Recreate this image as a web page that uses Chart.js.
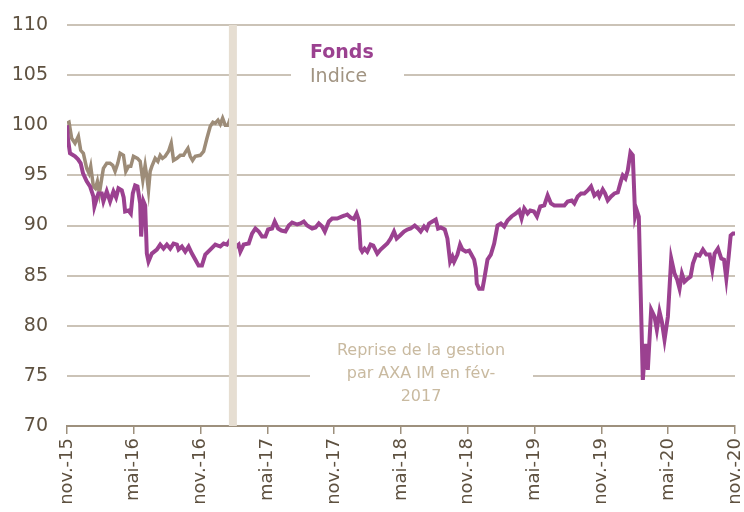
<!DOCTYPE html>
<html><head><meta charset="utf-8">
<script src="https://cdn.jsdelivr.net/npm/chart.js@4/dist/chart.umd.min.js"></script>
<style>html,body{margin:0;padding:0;background:#fff}canvas{display:block}</style>
</head><body>
<canvas id="c" width="744" height="512"></canvas>
<script>
// Months since nov-15 for each reading
const fondsMonths = [0,0.09,0.27,0.72,0.99,1.23,1.44,1.77,2.07,2.37,2.46,2.67,2.82,3.12,3.27,3.57,3.87,4.17,4.41,4.62,4.92,5.09,5.22,5.52,5.73,5.91,6.12,6.33,6.57,6.66,6.87,7.02,7.17,7.32,7.62,8.07,8.37,8.67,8.97,9.27,9.57,9.87,10.02,10.32,10.62,10.92,11.22,11.52,11.82,12.12,12.42,12.87,13.32,13.77,14.07,14.37,14.67,14.94,15.21,15.42,15.57,15.87,16.32,16.62,16.92,17.22,17.52,17.82,18.06,18.42,18.66,18.96,19.26,19.62,19.92,20.22,20.67,20.97,21.27,21.57,22.02,22.32,22.62,22.92,23.16,23.52,23.82,24.27,24.72,24.96,25.17,25.47,25.77,26.01,26.22,26.37,26.52,26.73,26.97,27.27,27.51,27.87,28.17,28.47,28.77,29.07,29.37,29.61,29.91,30.27,30.57,30.87,31.23,31.53,31.77,32.07,32.31,32.52,32.82,33.12,33.33,33.57,33.93,34.17,34.41,34.62,34.77,35.07,35.31,35.52,35.82,36.12,36.27,36.57,36.72,36.81,37.02,37.32,37.47,37.77,38.07,38.37,38.67,38.97,39.27,39.57,39.93,40.32,40.62,40.83,41.07,41.37,41.61,41.94,42.21,42.51,42.87,43.17,43.47,43.77,44.22,44.67,44.97,45.33,45.57,45.87,46.17,46.47,46.77,47.07,47.37,47.67,47.82,48.12,48.33,48.57,48.87,49.17,49.47,49.77,49.92,50.16,50.37,50.61,50.82,51.03,51.18,51.36,51.72,51.96,52.17,52.47,52.77,52.98,53.22,53.43,53.67,53.97,54.27,54.57,54.81,55.02,55.23,55.47,55.77,56.01,56.22,56.52,56.82,57.12,57.42,57.72,57.96,58.17,58.47,58.77,59.01,59.22,59.43,59.61,59.82,60];
const fondsValues = [100.0,98.6,97.2,96.9,96.6,96.2,95.2,94.4,93.9,92.9,91.9,92.7,93.2,93.2,92.4,93.4,92.4,93.4,92.8,93.7,93.5,92.8,91.4,91.5,91.2,93.2,94.0,93.9,92.2,88.9,92.4,92.0,87.2,86.4,87.2,87.6,88.1,87.7,88.1,87.7,88.2,88.1,87.6,87.9,87.4,87.9,87.2,86.6,86.0,86.0,87.1,87.6,88.1,87.9,88.2,88.1,88.6,88.3,87.9,88.1,87.4,88.1,88.2,89.2,89.7,89.4,88.9,88.9,89.6,89.7,90.4,89.7,89.5,89.4,90.0,90.3,90.1,90.2,90.4,90.0,89.7,89.8,90.2,89.9,89.4,90.4,90.7,90.7,90.9,91.0,91.1,90.8,90.65,91.2,90.5,87.7,87.4,87.7,87.4,88.1,88.0,87.2,87.6,87.9,88.2,88.7,89.4,88.7,89.0,89.4,89.6,89.7,90.0,89.7,89.4,89.9,89.6,90.2,90.4,90.6,89.7,89.8,89.6,88.7,86.4,86.9,86.4,87.1,88.1,87.6,87.4,87.5,87.2,86.6,85.7,84.2,83.7,83.7,84.6,86.6,87.1,88.2,90.0,90.2,89.9,90.5,90.9,91.2,91.5,90.7,91.7,91.2,91.5,91.4,90.9,91.9,92.0,93.0,92.2,92.0,92.0,92.0,92.4,92.5,92.2,92.9,93.2,93.2,93.5,93.9,93.0,93.3,92.9,93.6,93.2,92.5,92.9,93.2,93.3,94.5,95.0,94.7,95.5,97.3,97.0,90.9,91.5,90.9,74.6,78.2,75.6,81.6,80.9,79.6,81.4,80.4,78.6,80.9,86.7,85.2,84.6,83.7,85.2,84.4,84.7,84.9,86.2,87.1,87.0,87.6,87.1,87.1,85.6,87.2,87.7,86.7,86.6,84.7,86.9,89.0,89.2,89.2];
const indiceMonths = [0,0.18,0.42,0.72,1.02,1.23,1.47,1.77,1.98,2.13,2.37,2.55,2.73,2.91,3.12,3.27,3.57,3.87,4.11,4.32,4.56,4.77,5.07,5.28,5.52,5.73,5.97,6.33,6.57,6.81,7.02,7.17,7.32,7.47,7.62,7.92,8.16,8.37,8.58,8.82,9.12,9.36,9.57,9.87,10.17,10.47,10.68,10.86,11.07,11.28,11.52,11.97,12.27,12.57,12.87,13.11,13.32,13.56,13.77,13.98,14.22,14.46,14.67];
const indiceValues = [100.2,100.3,98.7,98.2,98.9,97.5,97.2,95.7,95.2,95.9,93.9,93.7,94.4,93.2,94.7,95.7,96.2,96.2,96.0,95.4,96.2,97.2,97.0,95.4,95.9,95.9,96.9,96.7,96.4,94.5,96.0,94.9,93.5,95.4,95.9,96.7,96.4,97.0,96.7,96.9,97.4,98.2,96.5,96.7,97.0,97.0,97.4,97.7,96.9,96.5,96.9,97.0,97.4,98.7,99.9,100.3,100.2,100.5,100.1,100.7,100.0,100.0,100.7];
const tickMonths = [0,6,12,18,24,30,36,42,48,54,60];
const tickLabels = ['nov.-15','mai-16','nov.-16','mai-17','nov.-17','mai-18','nov.-18','mai-19','nov.-19','mai-20','nov.-20'];
const seriesNames = ['Fonds','Indice'];
const bandMonth = 14.9;
const noteLines = ['Reprise de la gestion','par AXA IM en fév-','2017'];

const PURPLE = '#9b4190', TAUPE = '#9d8c78', GRID = '#cbc3b7', TXT = '#5e5140';
const FONT = "'DejaVu Sans', sans-serif";

const overlay = {
  id: 'overlay',
  beforeDatasetsDraw(chart) {
    const ctx = chart.ctx;
    ctx.save();
    ctx.fillStyle = '#fff';
    ctx.fillRect(291, 34, 113, 58);
    ctx.fillRect(310, 332, 223, 80);
    ctx.restore();
  },
  afterDatasetsDraw(chart) {
    const ctx = chart.ctx, xs = chart.scales.x, area = chart.chartArea;
    ctx.save();
    const bx = xs.getPixelForValue(bandMonth);
    ctx.fillStyle = '#e6ded2';
    ctx.fillRect(bx - 4, area.top, 8, area.bottom - area.top);
    ctx.textBaseline = 'middle';
    ctx.textAlign = 'left';
    ctx.font = 'bold 19px ' + FONT;
    ctx.fillStyle = PURPLE;
    ctx.fillText(seriesNames[0], 310, 53);
    ctx.font = '19px ' + FONT;
    ctx.fillStyle = '#a19482';
    ctx.fillText(seriesNames[1], 310, 77);
    ctx.font = '16px ' + FONT;
    ctx.fillStyle = '#c9baa0';
    ctx.textAlign = 'center';
    noteLines.forEach((t, i) => ctx.fillText(t, 421, 351 + i * 23));
    ctx.restore();
  }
};

new Chart(document.getElementById('c'), {
  type: 'line',
  data: {
    datasets: [
      { label: seriesNames[0], data: fondsMonths.map((m, i) => ({x: m, y: fondsValues[i]})),
        borderColor: PURPLE, borderWidth: 4, pointRadius: 0, tension: 0, order: 1 },
      { label: seriesNames[1], data: indiceMonths.map((m, i) => ({x: m, y: indiceValues[i]})),
        borderColor: TAUPE, borderWidth: 3.5, pointRadius: 0, tension: 0, order: 2 }
    ]
  },
  options: {
    responsive: false, animation: false, devicePixelRatio: 1,
    layout: { padding: { top: 25, right: 9, left: 0, bottom: 0 } },
    plugins: { legend: { display: false }, tooltip: { enabled: false } },
    scales: {
      x: {
        type: 'linear', min: 0, max: 60,
        afterBuildTicks: s => { s.ticks = tickMonths.map(v => ({value: v})); },
        afterFit: s => { s.height = 86; s.paddingLeft = 0; s.paddingRight = 0; },
        grid: { display: true, drawOnChartArea: false, drawTicks: true, tickLength: 8, color: '#9d907d', lineWidth: 1.5 },
        border: { display: true, color: '#9d907d', width: 2 },
        ticks: { autoSkip: false, minRotation: 90, maxRotation: 90, padding: 4, color: TXT,
          font: { family: FONT, size: 18 },
          callback: v => tickLabels[tickMonths.indexOf(v)] }
      },
      y: {
        min: 70, max: 110,
        afterFit: s => { s.width = 67; s.paddingTop = 0; s.paddingBottom = 0; },
        grid: { color: GRID, lineWidth: 2, drawTicks: false },
        border: { display: false },
        ticks: { stepSize: 5, padding: 19, color: TXT, font: { family: FONT, size: 19 } }
      }
    }
  },
  plugins: [overlay]
});
</script>
</body></html>
